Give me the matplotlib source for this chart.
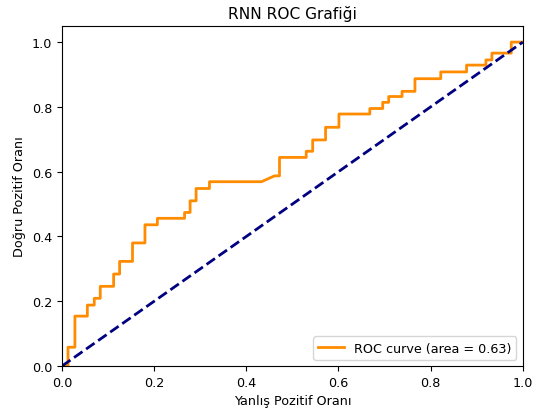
import numpy as np
import matplotlib
matplotlib.use("Agg")
import matplotlib.pyplot as plt

# ROC corner points (false positive rate, true positive rate)
fpr = [0.0, 0.013, 0.013, 0.028, 0.028, 0.055, 0.055, 0.070, 0.070, 0.083, 0.083,
       0.112, 0.112, 0.125, 0.125, 0.153, 0.153, 0.180, 0.180, 0.207, 0.207,
       0.266, 0.266, 0.278, 0.278, 0.291, 0.291, 0.320, 0.320, 0.433, 0.461,
       0.472, 0.472, 0.530, 0.530, 0.544, 0.544, 0.572, 0.572, 0.601, 0.601,
       0.668, 0.668, 0.696, 0.696, 0.709, 0.709, 0.738, 0.738, 0.766, 0.766,
       0.822, 0.822, 0.878, 0.878, 0.920, 0.920, 0.933, 0.933, 0.975, 0.975, 1.0]
tpr = [0.0, 0.0, 0.058, 0.058, 0.154, 0.154, 0.188, 0.188, 0.209, 0.209, 0.246,
       0.246, 0.284, 0.284, 0.323, 0.323, 0.380, 0.380, 0.436, 0.436, 0.456,
       0.456, 0.474, 0.474, 0.510, 0.510, 0.548, 0.548, 0.569, 0.569, 0.587,
       0.587, 0.644, 0.644, 0.663, 0.663, 0.698, 0.698, 0.737, 0.737, 0.778,
       0.778, 0.795, 0.795, 0.814, 0.814, 0.832, 0.832, 0.848, 0.848, 0.887,
       0.887, 0.908, 0.908, 0.929, 0.929, 0.945, 0.945, 0.966, 0.966, 1.0, 1.0]

roc_auc = np.trapezoid(tpr, fpr)

plt.rcParams["font.size"] = 9.2

fig = plt.figure(figsize=(5.44, 4.14), dpi=100)
ax = fig.add_axes([0.114, 0.1135, 0.847, 0.8215])
ax.plot(fpr, tpr, color="darkorange", lw=2, label=f"ROC curve (area = {roc_auc:.2f})")
ax.plot([0, 1], [0, 1], color="navy", lw=2, linestyle="--")
ax.set_xlim([0.0, 1.0])
ax.set_ylim([0.0, 1.05])
ax.set_xlabel("Yanlış Pozitif Oranı")
ax.set_ylabel("Doğru Pozitif Oranı")
ax.set_title("RNN ROC Grafiği")
ax.legend(loc="lower right")
fig.savefig("out.png", dpi=100)
